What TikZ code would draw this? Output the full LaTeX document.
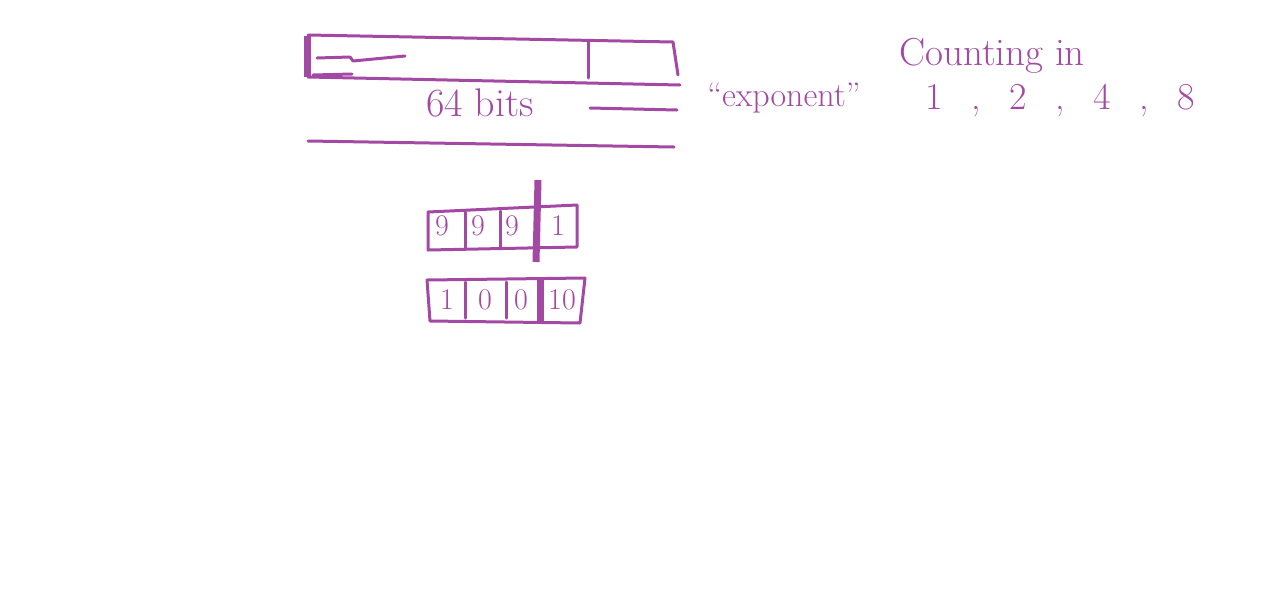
\documentclass[tikz,border=0pt]{standalone}
\definecolor{marker}{RGB}{163,73,164}
\begin{document}
\begin{tikzpicture}[x=1pt, y=-1pt,
    ink/.style={draw=marker, line width=3pt, line cap=round, line join=round},
    heavy/.style={draw=marker, line width=7pt},
    hand/.style={text=marker, inner sep=0pt, font=\fontsize{40}{46}\selectfont},
    digit/.style={text=marker, inner sep=0pt, font=\fontsize{30}{34}\selectfont}]
  \useasboundingbox (0, 0) rectangle (1268, 590);
  % the 64-bit word
  \draw [ink] (308, 35) -- (673, 42) -- (678, 75);
  \draw [ink] (308, 77) -- (680, 85);
  \draw [heavy] (307, 36) -- (307, 77);
  \draw [ink] (588, 42) -- (588, 78);
  \draw [ink] (317, 58) -- (350, 57) -- (353, 61) -- (405, 56);
  \draw [ink] (313, 75) -- (352, 74);
  \node [hand] (width) at (480, 103) {64 bits};
  \draw [ink] (590, 108) -- (677, 110);
  \draw [ink] (308, 141) -- (674, 147);
  \node [hand, font=\fontsize{34}{40}\selectfont] (expo) at (784, 98) {``exponent''};
  \node [hand, font=\fontsize{39}{45}\selectfont] (counting) at (992, 56) {Counting in};
  \node [hand, font=\fontsize{38}{44}\selectfont] (powers) at (1060, 100)
    {1\hskip0.75em,\hskip0.75em2\hskip0.75em,\hskip0.75em4\hskip0.75em,\hskip0.75em8};
  % decimal example: 999 and 1000
  \draw [ink] (428, 212) -- (577, 205) -- (577, 247) -- (428, 250) -- cycle;
  \draw [ink] (465, 212) -- (465, 248);
  \draw [ink] (500, 211) -- (500, 248);
  \draw [heavy] (538, 180) -- (536, 262);
  \node [digit] (nine1) at (442, 226) {9};
  \node [digit] (nine2) at (478, 226) {9};
  \node [digit] (nine3) at (512, 226) {9};
  \node [digit] (carry) at (558, 226) {1};
  \draw [ink] (427, 280) -- (585, 278) -- (580, 323) -- (430, 321) -- cycle;
  \draw [ink] (465, 282) -- (465, 318);
  \draw [ink] (506, 282) -- (506, 318);
  \draw [heavy] (540, 279) -- (540, 321);
  \node [digit] (one) at (447, 300) {1};
  \node [digit] (zero1) at (485, 300) {0};
  \node [digit] (zero2) at (521, 300) {0};
  \node [digit] (base) at (562, 300) {10};
\end{tikzpicture}
\end{document}
